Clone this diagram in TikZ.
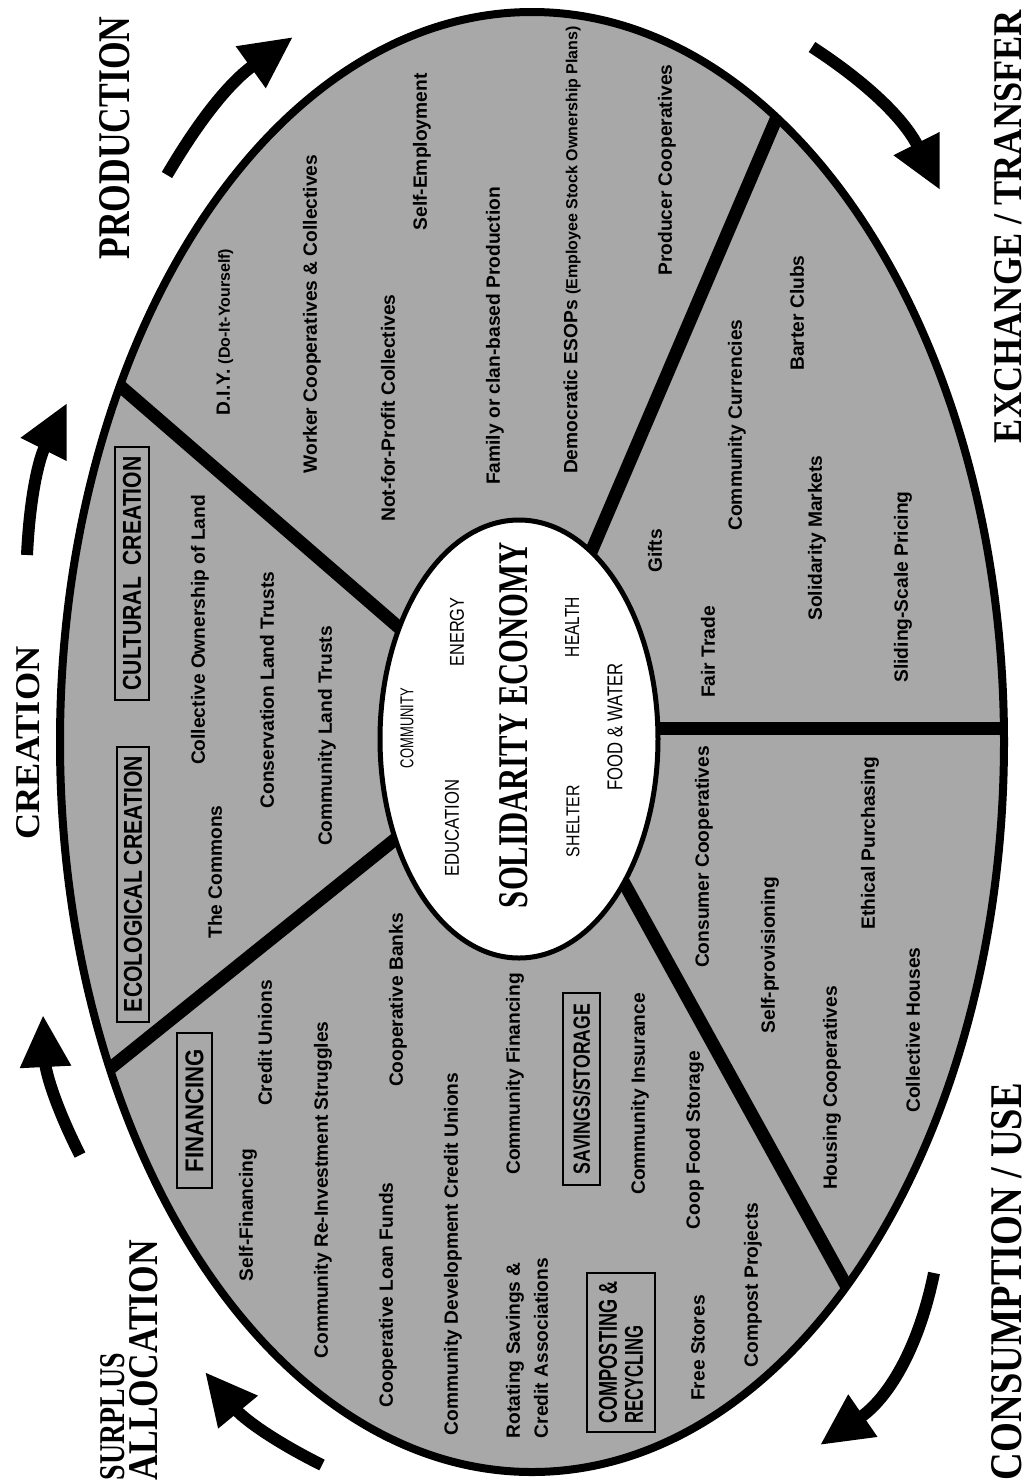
\documentclass[tikz,border=0pt]{standalone}
\usepackage{fontspec}
\setmainfont{Liberation Sans}
\newfontfamily\serifb{Liberation Serif}
\usetikzlibrary{arrows.meta}
\definecolor{bg}{gray}{0.66}
\newcommand\parsz{\fontsize{8}{9}\selectfont}
\tikzset{
  item/.style={rotate=90, inner sep=0pt, font=\bfseries\fontsize{9.6}{14}\selectfont, text=black},
  hdrbox/.style={rotate=90, draw=black, line width=1pt, inner sep=0pt, font=\bfseries},
  biglab/.style={rotate=90, inner sep=0pt, font=\serifb\bfseries},
  inlab/.style={rotate=90, inner sep=0pt, font=\fontsize{9}{10}\selectfont},
  spoke/.style={line width=6.5pt},
  flow/.style={line width=6pt, -{Triangle[length=26pt,width=24pt]}},
}
\begin{document}
\begin{tikzpicture}[x=0.5pt, y=-0.5pt]
\useasboundingbox (0,0) rectangle (1025,1484);
\fill[white] (0,0) rectangle (1025,1484);
% background disc
\fill[bg] (532,742) ellipse [x radius=472, y radius=730];
\begin{scope}
  \clip (532,742) ellipse [x radius=472, y radius=730];
  \coordinate (s1a) at (426,651); \coordinate (s1b) at (104,372);
  \coordinate (s2a) at (444,800); \coordinate (s2b) at (87,1087);
  \coordinate (s3a) at (586,814); \coordinate (s3b) at (863,1316);
  \coordinate (s4a) at (620,728); \coordinate (s4b) at (1030,728);
  \coordinate (s5a) at (568,606); \coordinate (s5b) at (789,89);
  \draw[spoke] (s1a) -- (s1b);
  \draw[spoke] (s2a) -- (s2b);
  \draw[spoke] (s3a) -- (s3b);
  \draw[spoke] (s4a) -- (s4b);
  \draw[spoke] (s5a) -- (s5b);
\end{scope}
\draw[line width=2.5pt, fill=white] (519,739) ellipse [x radius=139, y radius=219];
\draw[line width=4pt] (532,742) ellipse [x radius=472, y radius=730];

% centre
\node[biglab] (solid) at (514,725) {\resizebox{183pt}{14pt}{SOLIDARITY ECONOMY}};
\node[inlab] (comm) at (407,728) {\resizebox{40pt}{6.5pt}{COMMUNITY}};
\node[inlab] (edu) at (452,828) {\resizebox{48.5pt}{7pt}{EDUCATION}};
\node[inlab] (ener) at (457,632) {\resizebox{34.5pt}{7pt}{ENERGY}};
\node[inlab] (shel) at (573,821) {\resizebox{36pt}{6.5pt}{SHELTER}};
\node[inlab] (heal) at (572,627) {\resizebox{30pt}{7pt}{HEALTH}};
\node[inlab] (food) at (615,727) {\resizebox{63.5pt}{7.5pt}{FOOD \& WATER}};

% creation
\node[hdrbox, minimum width=126.5pt, minimum height=17pt] (cult) at (132,573.5) {\resizebox{117pt}{9pt}{CULTURAL\ \ CREATION}};
\node[hdrbox, minimum width=137.5pt, minimum height=16pt] (ecol) at (133,884) {\resizebox{128pt}{9pt}{ECOLOGICAL CREATION}};
\node[item] (col) at (200,630) {Collective Ownership of Land};
\node[item] (commons) at (215,872) {The Commons};
\node[item] (cons) at (267,690) {Conservation Land Trusts};
\node[item] (clt) at (327,736) {Community Land Trusts};

% production
\node[item] (diy) at (225,332) {D.I.Y. {\parsz (Do-It-Yourself)}};
\node[item] (wcc) at (312,314) {Worker Cooperatives \& Collectives};
\node[item] (nfp) at (388,408) {Not-for-Profit Collectives};
\node[item] (sem) at (422,152) {Self-Employment};
\node[item] (fam) at (495,336) {Family or clan-based Production};
\node[item] (esop) at (572,250) {Democratic ESOPs {\parsz (Employee Stock Ownership Plans)}};
\node[item] (pco) at (667,170) {Producer Cooperatives};

% exchange
\node[item] (barter) at (797,313) {Barter Clubs};
\node[item] (ccur) at (737,425) {Community Currencies};
\node[item] (smkt) at (817,538) {Solidarity Markets};
\node[item] (ssp) at (903,587) {Sliding-Scale Pricing};
\node[item] (gifts) at (655,551) {Gifts};
\node[item] (fair) at (708,652) {Fair Trade};

% consumption
\node[item] (ccoop) at (704,857) {Consumer Cooperatives};
\node[item] (selfp) at (770,955) {Self-provisioning};
\node[item] (ethp) at (870,843) {Ethical Purchasing};
\node[item] (hcoop) at (832,1088) {Housing Cooperatives};
\node[item] (colh) at (913,1030) {Collective Houses};

% surplus allocation
\node[hdrbox, minimum width=77.5pt, minimum height=17.5pt] (fin) at (194.5,1110.5) {\resizebox{61.5pt}{9pt}{FINANCING}};
\node[item] (selff) at (248,1215) {Self-Financing};
\node[item] (cu) at (265,1043) {Credit Unions};
\node[item] (cris) at (323,1190) {Community Re-Investment Struggles};
\node[item] (clf) at (388,1295) {Cooperative Loan Funds};
\node[item] (cbank) at (398,1000) {Cooperative Banks};
\node[item] (cdcu) at (453,1254) {Community Development Credit Unions};
\node[item] (cfin) at (515,1074) {Community Financing};
\node[item, align=left] (rosca) at (527,1348) {Rotating Savings \&\\Credit Associations};
\node[hdrbox, minimum width=96pt, minimum height=18.5pt] (sav) at (581.5,1089) {\resizebox{85pt}{8.5pt}{SAVINGS/STORAGE}};
\node[item] (cins) at (640,1094) {Community Insurance};
\node[item] (cfs) at (695,1140) {Coop Food Storage};
\node[hdrbox, minimum width=79.5pt, minimum height=34pt, align=left, font=\bfseries\fontsize{9}{13}\selectfont] (comp) at (621,1352.5) {\resizebox{71pt}{9pt}{COMPOSTING \&}\\\resizebox{49pt}{9pt}{RECYCLING}};
\node[item] (fstores) at (698,1348) {Free Stores};
\node[item] (compost) at (753,1285) {Compost Projects};

% outer labels
\node[biglab] (prod) at (115,138) {\resizebox{121.5pt}{15pt}{PRODUCTION}};
\node[biglab] (crea) at (28,743) {\resizebox{96.5pt}{11.5pt}{CREATION}};
\node[biglab, align=left, font=\serifb\bfseries\fontsize{10}{16.5}\selectfont] (surp) at (129,1360) {\resizebox{63.5pt}{12pt}{SURPLUS}\\\resizebox{120pt}{14pt}{ALLOCATION}};
\node[biglab] (cuse) at (1007,1281.5) {\resizebox{198.5pt}{15pt}{CONSUMPTION / USE}};
\node[biglab] (exch) at (1008,226.5) {\resizebox{216.5pt}{13.5pt}{EXCHANGE / TRANSFER}};

% flow arrows
\coordinate (a1s) at (167,175); \coordinate (a1e) at (293,37);
\coordinate (a2s) at (27,555);  \coordinate (a2e) at (67,403);
\coordinate (a3s) at (80,1155); \coordinate (a3e) at (43,1015);
\coordinate (a4s) at (322,1465); \coordinate (a4e) at (205,1372);
\coordinate (a5s) at (934,1273); \coordinate (a5e) at (820,1445);
\coordinate (a6s) at (812,47);  \coordinate (a6e) at (940,190);
\draw[flow] (a1s) to[bend left=12] (a1e);
\draw[flow] (a2s) to[bend left=12] (a2e);
\draw[flow] (a3s) to[bend left=12] (a3e);
\draw[flow] (a4s) to[bend left=12] (a4e);
\draw[flow] (a5s) to[bend left=22] (a5e);
\draw[flow] (a6s) to[bend left=15] (a6e);
\end{tikzpicture}
\end{document}
